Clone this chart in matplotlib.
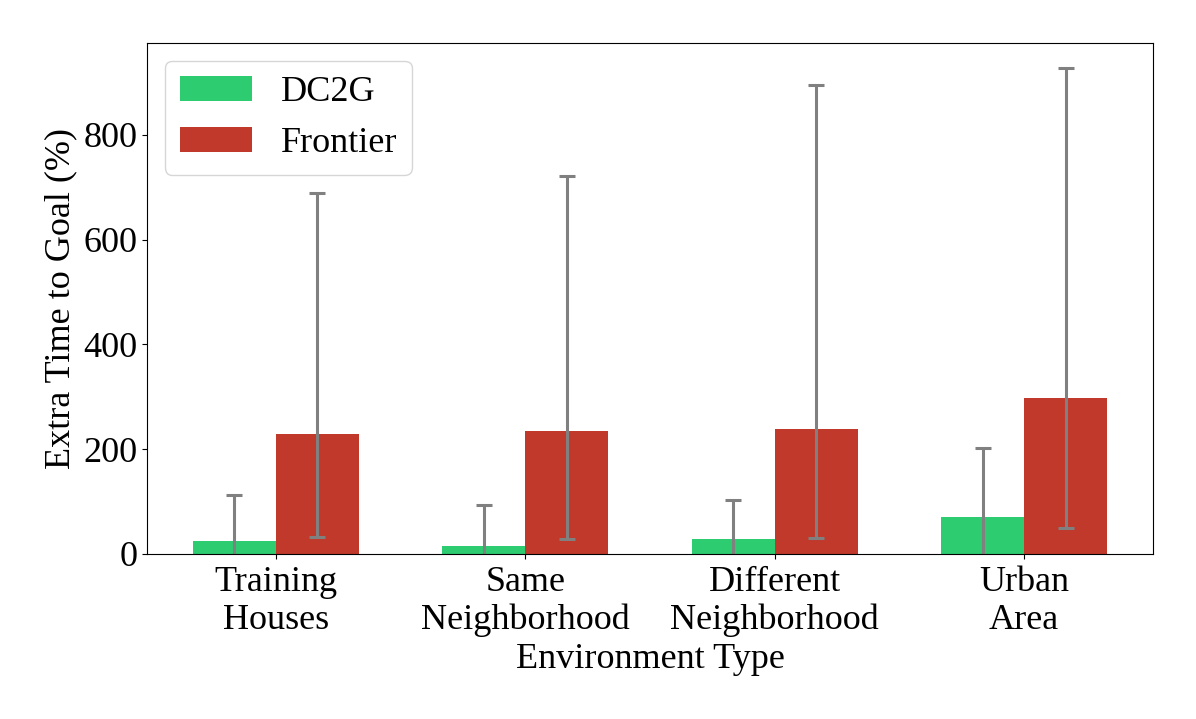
import matplotlib
matplotlib.use("Agg")
import matplotlib.pyplot as plt
import numpy as np

plt.rcParams['font.family'] = ['Liberation Serif', 'DejaVu Serif']
plt.rcParams['mathtext.fontset'] = 'stix'

categories = ["Training\nHouses", "Same\nNeighborhood", "Different\nNeighborhood", "Urban\nArea"]
dc2g_mean = [25, 16, 29, 71]
dc2g_upper = [113, 94, 103, 202]
frontier_mean = [229, 235, 239, 298]
frontier_upper = [689, 721, 895, 928]
frontier_lower = [32, 29, 31, 50]

dc2g_mean = np.array(dc2g_mean)
dc2g_upper = np.array(dc2g_upper)
dc2g_lower = 2 * dc2g_mean - dc2g_upper
frontier_mean = np.array(frontier_mean)
frontier_upper = np.array(frontier_upper)
frontier_lower = np.array(frontier_lower)

fig = plt.figure(figsize=(11.96, 7.19), dpi=100)
ax = fig.add_axes([147/1196, 1-554/719, (1153-147)/1196, (554-43)/719])

x = np.arange(len(categories))
w = 1/3
err_kw = dict(ecolor='gray', elinewidth=2.2, capsize=6, capthick=2.2)
ax.bar(x - w/2, dc2g_mean, w, color='#2ecc71', label='DC2G',
       yerr=[dc2g_mean - dc2g_lower, dc2g_upper - dc2g_mean], error_kw=err_kw)
ax.bar(x + w/2, frontier_mean, w, color='#c0392b', label='Frontier',
       yerr=[frontier_mean - frontier_lower, frontier_upper - frontier_mean], error_kw=err_kw)

ax.set_ylim(0, 975)
ax.set_xticks(x)
ax.set_xticklabels(categories, fontsize=26, linespacing=1.2)
ax.tick_params(axis='x', pad=5)
ax.set_yticks([0, 200, 400, 600, 800])
ax.tick_params(axis='y', labelsize=26)
ax.set_xlabel("Environment Type", fontsize=26, labelpad=4)
ax.set_ylabel("Extra Time to Goal (%)", fontsize=26)
ax.legend(loc='upper left', fontsize=26)

fig.savefig("out.png", dpi=100)
